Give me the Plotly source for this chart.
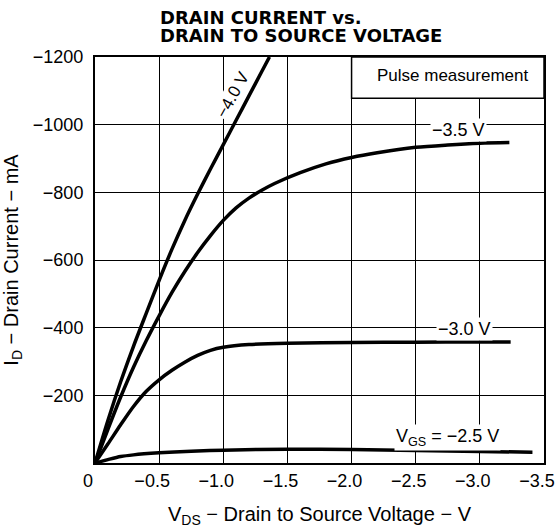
import plotly.graph_objects as go

# ---- data ----
vds_40 = [0, -0.1, -0.2, -0.3, -0.4, -0.5, -0.6, -0.7, -0.8, -0.9, -1.0, -1.1, -1.2, -1.3, -1.36]
id_40 = [0, -125, -240, -345, -443, -540, -632, -717, -795, -869, -941, -1013, -1085, -1157, -1200]

vds_35 = [0, -0.1, -0.2, -0.3, -0.4, -0.5, -0.6, -0.7, -0.8, -0.9, -1.0, -1.1, -1.2, -1.3, -1.4,
          -1.6, -1.8, -2.0, -2.2, -2.5, -2.75, -3.0, -3.23]
id_35 = [0, -99, -195, -283, -362, -435, -504, -566, -622, -672, -717, -754, -783, -806, -826,
         -858, -884, -903, -917, -933, -940, -945, -947]

vds_30 = [0, -0.1, -0.2, -0.3, -0.4, -0.5, -0.6, -0.7, -0.8, -0.9, -1.0, -1.2,
          -1.5, -2.0, -2.5, -3.0, -3.24]
id_30 = [0, -56, -113, -167, -212, -246, -274, -298, -318, -333, -342, -350,
         -354, -356, -357, -358, -358]

vds_25 = [0, -0.1, -0.2, -0.3, -0.5, -0.75, -1.0, -1.5, -2.0, -2.5, -3.0, -3.41]
id_25 = [0, -10, -19, -24, -30, -35, -38, -41, -40, -37, -34, -32]

x_ticks = [0, -0.5, -1.0, -1.5, -2.0, -2.5, -3.0, -3.5]
x_tick_text = ["0", "−0.5", "−1.0", "−1.5", "−2.0", "−2.5", "−3.0", "−3.5"]
y_ticks = [-200, -400, -600, -800, -1000, -1200]
y_tick_text = ["−200", "−400", "−600", "−800", "−1000", "−1200"]

FONT = "Liberation Sans, Arial, sans-serif"

fig = go.Figure()
for xs, ys, name in [(vds_40, id_40, "−4.0 V"), (vds_35, id_35, "−3.5 V"),
                     (vds_30, id_30, "−3.0 V"), (vds_25, id_25, "−2.5 V")]:
    fig.add_trace(go.Scatter(x=xs, y=ys, mode="lines", name=name,
                             line=dict(color="black", width=3.5, shape="spline", smoothing=0.8),
                             showlegend=False, hoverinfo="skip"))

# Pulse measurement box (masks gridlines inside)
fig.add_shape(type="rect", x0=-2.0, x1=-3.5, y0=-1078, y1=-1200, xref="x", yref="y",
              fillcolor="white", line=dict(color="black", width=1.5), layer="between")

ann_font = dict(family=FONT, size=18, color="black")
fig.add_annotation(x=-2.79, y=-1144, text="Pulse measurement", showarrow=False,
                   font=dict(family=FONT, size=17, color="black"))
fig.add_annotation(x=-1.077, y=-1088, text="−4.0 V", textangle=-61, showarrow=False,
                   font=dict(family=FONT, size=17, color="black"), bgcolor="white", borderpad=0)
fig.add_annotation(x=-2.837, y=-985, text="−3.5 V", showarrow=False, font=ann_font,
                   bgcolor="white", borderpad=1)
fig.add_annotation(x=-2.884, y=-395, text="−3.0 V", showarrow=False, font=ann_font,
                   bgcolor="white", borderpad=1)
fig.add_annotation(x=-2.751, y=-74, text="V<sub>GS</sub> = −2.5 V", showarrow=False, font=ann_font,
                   bgcolor="white", borderpad=1)

# Title (two lines, left aligned)
title_font = dict(family="DejaVu Sans", size=18, color="black", weight="bold")
fig.add_annotation(x=0.1425, y=1.0985, xref="paper", yref="paper", xanchor="left", yanchor="middle",
                   text="DRAIN CURRENT vs.", showarrow=False, font=title_font, borderpad=0)
fig.add_annotation(x=0.1425, y=1.0530, xref="paper", yref="paper", xanchor="left", yanchor="middle",
                   text="DRAIN TO SOURCE VOLTAGE", showarrow=False, font=title_font, borderpad=0)

fig.update_xaxes(range=[0, -3.5], tickvals=x_ticks, ticktext=x_tick_text,
                 showgrid=True, gridcolor="black", gridwidth=1, zeroline=False,
                 showline=True, linecolor="black", linewidth=2, mirror=True,
                 ticks="", ticklabelshift=7, ticklabeloverflow="allow", automargin=False,
                 tickfont=dict(family=FONT, size=18, color="black"),
                 title=dict(text="V<sub>DS</sub> − Drain to Source Voltage − V",
                            font=dict(family=FONT, size=20, color="black"), standoff=18))
fig.update_yaxes(range=[0, -1200], tickvals=y_ticks, ticktext=y_tick_text,
                 showgrid=True, gridcolor="black", gridwidth=1, zeroline=False,
                 showline=True, linecolor="black", linewidth=2, mirror=True,
                 ticks="", ticklabelstandoff=6, automargin=False,
                 tickfont=dict(family=FONT, size=18, color="black"),
                 title=dict(text="I<sub>D</sub> − Drain Current − mA",
                            font=dict(family=FONT, size=20, color="black"), standoff=10))

fig.update_layout(width=557, height=528, margin=dict(l=95, r=13, t=57, b=65),
                  plot_bgcolor="white", paper_bgcolor="white", showlegend=False)

fig.write_html("out.html", config={"displayModeBar": False},
               post_script="document.body.style.margin='0';document.body.style.overflow='hidden';")
